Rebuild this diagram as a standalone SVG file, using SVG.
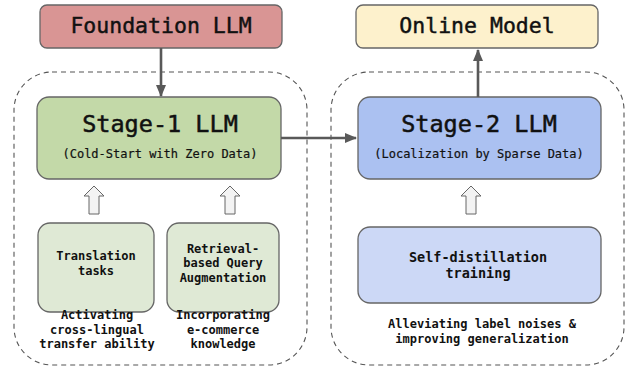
<svg xmlns="http://www.w3.org/2000/svg" width="636" height="371" viewBox="0 0 636 371">
<defs>
<style>
text{font-family:"DejaVu Sans Mono","Liberation Mono",monospace;fill:#111;text-anchor:middle}
.box{stroke:#666;stroke-width:1.3}
.cont{fill:none;stroke:#555;stroke-width:1.1;stroke-dasharray:5 4}
.big{font-size:21.5px;stroke:#111;stroke-width:0.45}
.stage{font-size:23.5px;stroke:#111;stroke-width:0.5}
.sub{font-size:12px;stroke:#111;stroke-width:0.2}
.b{font-size:12px;font-weight:bold}
.conn{stroke:#595959;stroke-width:2.6;fill:none}
.hollow{fill:#f3f3f3;stroke:#666;stroke-width:1}
</style>
<marker id="ah" viewBox="0 0 12 10" refX="11" refY="5" markerWidth="12" markerHeight="10" markerUnits="userSpaceOnUse" orient="auto">
<path d="M0,0 L12,5 L0,10 Z" fill="#595959"/>
</marker>
<path id="hol" d="M0,0 L10,10 L5,10 L5,28 L-5,28 L-5,10 L-10,10 Z"/>
</defs>
<rect class="cont" x="14" y="72" width="293" height="293" rx="38"/>
<rect class="cont" x="331" y="72" width="293" height="293" rx="38"/>
<g id="foundation"><rect class="box" x="40" y="5" width="242" height="43" rx="7" fill="#d99594"/><text class="big" x="161" y="33">Foundation LLM</text></g>
<g id="online"><rect class="box" x="356" y="5" width="242" height="43" rx="7" fill="#fdf1cc"/><text class="big" x="477" y="33">Online Model</text></g>
<g id="stage1"><rect class="box" x="37" y="97" width="244" height="82" rx="12" fill="#c3d9a8"/><text class="stage" x="160" y="132">Stage-1 LLM</text><text class="sub" x="160" y="158">(Cold-Start with Zero Data)</text></g>
<g id="stage2"><rect class="box" x="358" y="97" width="243" height="82" rx="12" fill="#abc1f1"/><text class="stage" x="479" y="132">Stage-2 LLM</text><text class="sub" x="479" y="158">(Localization by Sparse Data)</text></g>
<g id="translation"><rect class="box" x="38" y="223" width="116" height="89" rx="12" fill="#dfe9d5"/><text class="b" x="96" y="260">Translation</text><text class="b" x="96" y="275">tasks</text></g>
<g id="retrieval"><rect class="box" x="167" y="223" width="112" height="89" rx="12" fill="#dfe9d5"/><text class="b" x="223" y="253">Retrieval-</text><text class="b" x="223" y="267">based Query</text><text class="b" x="223" y="282">Augmentation</text></g>
<g id="selfdistill"><rect class="box" x="358" y="227" width="243" height="76" rx="12" fill="#ccd8f6"/><text class="b" style="font-size:13.5px" x="478" y="262">Self-distillation</text><text class="b" style="font-size:13.5px" x="478" y="278">training</text></g>
<g id="captions">
<text class="b" x="97" y="319">Activating</text><text class="b" x="97" y="334">cross-lingual</text><text class="b" x="97" y="348">transfer ability</text>
<text class="b" x="223" y="319">Incorporating</text><text class="b" x="223" y="334">e-commerce</text><text class="b" x="223" y="348">knowledge</text>
<text class="b" x="482" y="328">Alleviating label noises &amp;</text><text class="b" x="482" y="343">improving generalization</text>
</g>
<g id="connectors">
<line class="conn" x1="161" y1="48" x2="161" y2="96" marker-end="url(#ah)"/>
<line class="conn" x1="281" y1="138" x2="356" y2="138" marker-end="url(#ah)"/>
<line class="conn" x1="478" y1="97" x2="478" y2="50" marker-end="url(#ah)"/>
<use href="#hol" class="hollow" x="94" y="186"/>
<use href="#hol" class="hollow" x="230" y="186"/>
<use href="#hol" class="hollow" x="471" y="186"/>
</g>
</svg>
